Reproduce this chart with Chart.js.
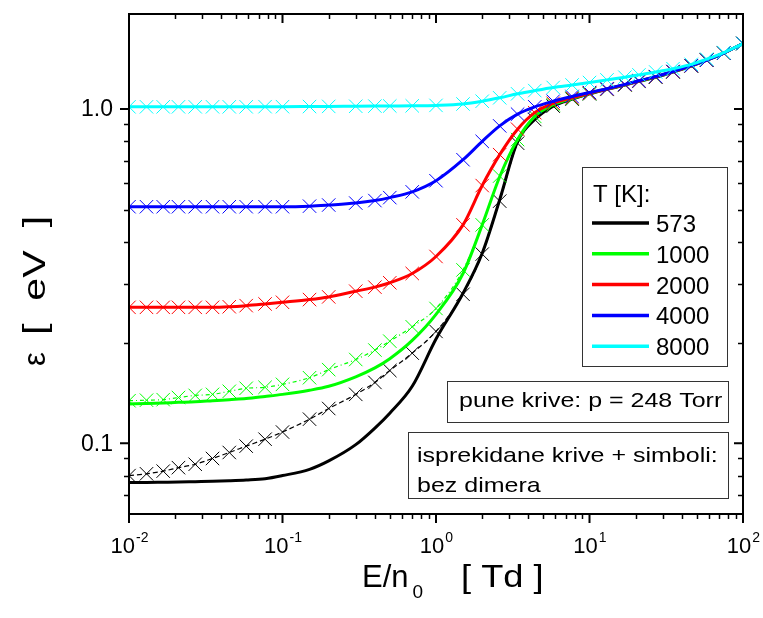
<!DOCTYPE html>
<html>
<head>
<meta charset="utf-8">
<script src="https://cdn.jsdelivr.net/npm/chart.js@4.4.1/dist/chart.umd.min.js"></script>
<style>
  body { margin: 0; background: #fff; }
</style>
</head>
<body>
<canvas id="myChart" width="763" height="618"></canvas>
<script>
// E/n0 [Td] - tocke proracuna (iste za sve krive)
const en = [0.01, 0.013, 0.0167, 0.021, 0.027, 0.035, 0.045, 0.058, 0.077, 0.1,
            0.15, 0.2, 0.3, 0.4, 0.5, 0.7, 1.0, 1.5, 2.0, 2.6,
            3.4, 4.4, 5.8, 7.7, 10, 13, 17, 21, 27, 35,
            46, 58, 75, 100];

const temps = ['573', '1000', '2000', '4000', '8000'];
const colors = ['#000000', '#00ff00', '#ff0000', '#0000ff', '#00ffff'];

// pune krive: p = 248 Torr  (srednja energija u eV)
const eps573 = [0.0763, 0.0763, 0.0764, 0.0765, 0.0767, 0.0769, 0.0772, 0.0776, 0.0783, 0.080,
                0.0835, 0.0885, 0.099, 0.111, 0.123, 0.148, 0.205, 0.281, 0.370, 0.535,
                0.80, 0.93, 1.02, 1.07, 1.11, 1.145, 1.18, 1.21, 1.245, 1.29,
                1.345, 1.40, 1.47, 1.57];
const eps1000 = [0.131, 0.1315, 0.132, 0.1325, 0.133, 0.134, 0.135, 0.136, 0.138, 0.140,
                 0.144, 0.148, 0.158, 0.168, 0.179, 0.203, 0.243, 0.322, 0.45, 0.627,
                 0.81, 0.95, 1.03, 1.075, 1.112, 1.147, 1.182, 1.212, 1.247, 1.292,
                 1.347, 1.40, 1.47, 1.57];
const eps2000 = [0.255, 0.255, 0.255, 0.255, 0.255, 0.255, 0.256, 0.258, 0.261, 0.264,
                 0.269, 0.274, 0.285, 0.293, 0.302, 0.322, 0.362, 0.45, 0.59, 0.73,
                 0.87, 0.975, 1.04, 1.08, 1.115, 1.148, 1.183, 1.213, 1.248, 1.293,
                 1.347, 1.40, 1.47, 1.57];
const eps4000 = [0.51, 0.51, 0.51, 0.51, 0.51, 0.51, 0.51, 0.51, 0.51, 0.51,
                 0.512, 0.516, 0.523, 0.532, 0.543, 0.565, 0.61, 0.705, 0.80, 0.89,
                 0.965, 1.015, 1.055, 1.09, 1.12, 1.15, 1.185, 1.215, 1.25, 1.295,
                 1.348, 1.40, 1.47, 1.57];
const eps8000 = [1.015, 1.015, 1.015, 1.015, 1.015, 1.015, 1.015, 1.015, 1.016, 1.016,
                 1.017, 1.018, 1.019, 1.02, 1.021, 1.022, 1.025, 1.035, 1.055, 1.08,
                 1.11, 1.135, 1.16, 1.18, 1.20, 1.222, 1.245, 1.265, 1.29, 1.32,
                 1.36, 1.41, 1.475, 1.57];

// isprekidane krive + simboli: bez dimera
const bez573 = [0.080, 0.081, 0.0825, 0.0845, 0.0865, 0.090, 0.0938, 0.098, 0.1028, 0.108,
                0.118, 0.127, 0.140, 0.152, 0.165, 0.186, 0.216, 0.279, 0.368, 0.53,
                0.79, 0.93, 1.02, 1.07, 1.11, 1.145, 1.18, 1.21, 1.245, 1.29,
                1.345, 1.40, 1.47, 1.57];
const bez1000 = [0.134, 0.1345, 0.135, 0.137, 0.139, 0.140, 0.143, 0.146, 0.147, 0.150,
                 0.157, 0.166, 0.178, 0.190, 0.202, 0.223, 0.253, 0.33, 0.45, 0.63,
                 0.81, 0.95, 1.03, 1.075, 1.112, 1.147, 1.182, 1.212, 1.247, 1.292,
                 1.347, 1.40, 1.47, 1.57];
const bez2000 = eps2000;
const bez4000 = eps4000;
const bez8000 = eps8000;

const solidData = [eps573, eps1000, eps2000, eps4000, eps8000];
const dashData = [bez573, bez1000, bez2000, bez4000, bez8000];

// oznake osa
const xTicks = [0.01, 0.1, 1, 10, 100];
const xTickExp = ['-2', '-1', '0', '1', '2'];
const yTicks = [0.1, 1.0];
const yTickLabels = ['0.1', '1.0'];
const yMinorTicks = [0.07, 0.08, 0.09, 0.2, 0.3, 0.4, 0.5, 0.6, 0.7, 0.8, 0.9];

const FONT = '"Liberation Sans", Arial, sans-serif';

const toPoints = (arr) => en.map((x, i) => ({ x: x, y: arr[i] }));

// tekst razvucen po sirini (kao u originalu)
function sirokiTekst(ctx, text, x, y, sx) {
    ctx.save();
    ctx.translate(x, y);
    ctx.scale(sx, 1);
    ctx.fillText(text, 0, 0);
    ctx.restore();
}

// crta okvir, podioke, natpise i legendu
const okvirPlugin = {
    id: 'okvir',
    afterDatasetsDraw(chart) {
        const ctx = chart.ctx;
        const a = chart.chartArea;
        const xs = chart.scales.x;
        const ys = chart.scales.y;
        ctx.save();

        // podioke na x osi
        ctx.strokeStyle = '#000';
        ctx.lineWidth = 1.5;
        for (let d = -2; d <= 1; d++) {
            for (let m = 2; m <= 9; m++) {
                const px = Math.round(xs.getPixelForValue(m * Math.pow(10, d))) + 0.5;
                ctx.beginPath();
                ctx.moveTo(px, a.bottom); ctx.lineTo(px, a.bottom + 5);
                ctx.moveTo(px, a.top); ctx.lineTo(px, a.top + 5);
                ctx.stroke();
            }
        }
        ctx.lineWidth = 2;
        xTicks.forEach((v) => {
            const px = xs.getPixelForValue(v);
            ctx.beginPath();
            ctx.moveTo(px, a.bottom); ctx.lineTo(px, a.bottom + 9);
            ctx.moveTo(px, a.top); ctx.lineTo(px, a.top + 9);
            ctx.stroke();
        });

        // podioke na y osi
        ctx.lineWidth = 1.5;
        yMinorTicks.forEach((v) => {
            const py = Math.round(ys.getPixelForValue(v)) + 0.5;
            ctx.beginPath();
            ctx.moveTo(a.left, py); ctx.lineTo(a.left - 5, py);
            ctx.moveTo(a.right, py); ctx.lineTo(a.right - 5, py);
            ctx.stroke();
        });
        ctx.lineWidth = 2;
        yTicks.forEach((v) => {
            const py = ys.getPixelForValue(v);
            ctx.beginPath();
            ctx.moveTo(a.left, py); ctx.lineTo(a.left - 9, py);
            ctx.moveTo(a.right, py); ctx.lineTo(a.right - 9, py);
            ctx.stroke();
        });

        // okvir
        ctx.lineWidth = 2;
        ctx.strokeRect(a.left, a.top, a.right - a.left, a.bottom - a.top);

        // brojevi na osama
        ctx.fillStyle = '#000';
        ctx.textBaseline = 'alphabetic';
        xTicks.forEach((v, i) => {
            const px = xs.getPixelForValue(v);
            ctx.font = '22px ' + FONT;
            const w1 = ctx.measureText('10').width;
            ctx.font = '14px ' + FONT;
            const w2 = ctx.measureText(xTickExp[i]).width;
            const x0 = px - (w1 + w2) / 2;
            ctx.textAlign = 'left';
            ctx.font = '22px ' + FONT;
            ctx.fillText('10', x0, a.bottom + 39);
            ctx.font = '14px ' + FONT;
            ctx.fillText(xTickExp[i], x0 + w1 + 1, a.bottom + 28);
        });
        ctx.font = '23px ' + FONT;
        ctx.textAlign = 'right';
        ctx.textBaseline = 'middle';
        yTicks.forEach((v, i) => {
            ctx.fillText(yTickLabels[i], a.left - 16, ys.getPixelForValue(v) + 1);
        });

        // naslovi osa
        ctx.textBaseline = 'alphabetic';
        ctx.textAlign = 'left';
        ctx.font = '31px ' + FONT;
        ctx.fillText('E/n', 362, 587);
        let w = ctx.measureText('E/n').width;
        ctx.font = '19px ' + FONT;
        ctx.fillText('0', 362 + w + 4, 598);
        ctx.font = '31px ' + FONT;
        sirokiTekst(ctx, '[ Td ]', 461, 587, 1.17);

        ctx.save();
        ctx.translate(45, 366);
        ctx.rotate(-Math.PI / 2);
        ctx.font = '31px ' + FONT;
        ctx.fillText('\u03b5', 0, 0);
        sirokiTekst(ctx, '[  eV  ]', 31, 0, 1.33);
        ctx.restore();

        // legenda
        ctx.fillStyle = '#fff';
        ctx.fillRect(582, 167, 145, 199);
        ctx.strokeStyle = '#333';
        ctx.lineWidth = 1;
        ctx.strokeRect(582.5, 167.5, 145, 199);
        ctx.fillStyle = '#000';
        ctx.font = '24px ' + FONT;
        ctx.textAlign = 'left';
        ctx.fillText('T [K]:', 593, 202);
        temps.forEach((t, i) => {
            const y = 223 + i * 30.8;
            ctx.strokeStyle = colors[i];
            ctx.lineWidth = 3.5;
            ctx.beginPath();
            ctx.moveTo(592, y); ctx.lineTo(649, y);
            ctx.stroke();
            ctx.fillText(t, 656, y + 9);
        });

        // okviri s tekstom
        ctx.fillStyle = '#fff';
        ctx.fillRect(447, 381, 281, 41);
        ctx.fillRect(408, 432, 320, 66);
        ctx.strokeStyle = '#333';
        ctx.lineWidth = 1;
        ctx.strokeRect(447.5, 381.5, 281, 41);
        ctx.strokeRect(408.5, 432.5, 320, 66);
        ctx.fillStyle = '#000';
        ctx.font = '21px ' + FONT;
        sirokiTekst(ctx, 'pune krive: p = 248 Torr', 459, 407, 1.19);
        sirokiTekst(ctx, 'isprekidane krive + simboli:', 417, 462, 1.19);
        sirokiTekst(ctx, 'bez dimera', 417, 492, 1.19);

        ctx.restore();
    }
};

window.onload = () => {
    const ctx = document.getElementById('myChart');
    const datasets = [];
    temps.forEach((t, i) => {
        datasets.push({
            label: t + ' K',
            data: toPoints(solidData[i]),
            borderColor: colors[i],
            borderWidth: 3,
            pointRadius: 0,
            cubicInterpolationMode: 'monotone',
            clip: 0,
            order: 10 - 2 * i
        });
        datasets.push({
            label: t + ' K bez dimera',
            data: toPoints(dashData[i]),
            borderColor: colors[i],
            borderWidth: 1.2,
            borderDash: i === 1 ? [4, 3, 1, 3] : [5, 3],
            pointStyle: 'crossRot',
            pointRadius: 9.5,
            pointBorderWidth: 1,
            pointBorderColor: colors[i],
            pointBackgroundColor: colors[i],
            cubicInterpolationMode: 'monotone',
            clip: 0,
            order: 9 - 2 * i
        });
    });

    new Chart(ctx, {
        type: 'line',
        data: { datasets: datasets },
        options: {
            responsive: false,
            animation: false,
            events: [],
            layout: { padding: { left: 129, right: 20, top: 14, bottom: 104 } },
            scales: {
                x: { type: 'logarithmic', min: 0.01, max: 100, display: false },
                y: { type: 'logarithmic', min: 0.0614, max: 1.924, display: false }
            },
            plugins: {
                legend: { display: false },
                tooltip: { enabled: false }
            }
        },
        plugins: [okvirPlugin]
    });
};
</script>
</body>
</html>
